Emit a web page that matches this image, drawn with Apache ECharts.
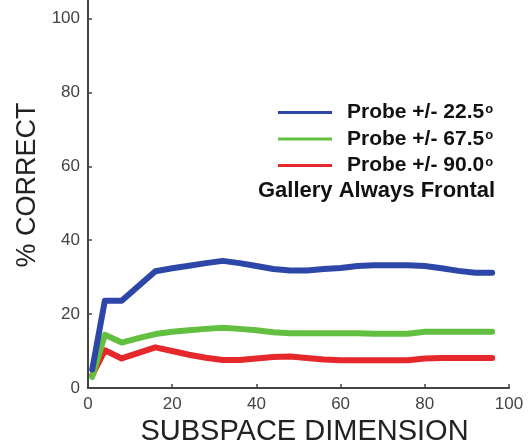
<!DOCTYPE html>
<html>
<head>
<meta charset="utf-8">
<script src="https://cdn.jsdelivr.net/npm/echarts@6/dist/echarts.min.js"></script>
<style>html,body{margin:0;padding:0;background:#fff}#c{width:529px;height:444px}</style>
</head>
<body>
<div id="c"></div>
<script>
var dims = [1, 4, 8, 12, 16, 20, 24, 28, 32, 36, 40, 44, 48, 52, 56, 60, 64, 68, 72, 76, 80, 84, 88, 92, 96];
var probe225 = [5, 23.6, 23.6, 27.6, 31.6, 32.4, 33.1, 33.8, 34.4, 33.8, 33.0, 32.2, 31.8, 31.8, 32.2, 32.5, 33.0, 33.2, 33.2, 33.2, 33.0, 32.4, 31.7, 31.2, 31.2];
var probe675 = [3, 14.4, 12.3, 13.5, 14.6, 15.2, 15.6, 16.0, 16.3, 16.0, 15.6, 15.1, 14.8, 14.8, 14.8, 14.8, 14.8, 14.7, 14.7, 14.7, 15.2, 15.2, 15.2, 15.2, 15.2];
var probe900 = [3.5, 10.2, 8.0, 9.5, 11.0, 10.0, 9.0, 8.2, 7.6, 7.6, 8.0, 8.4, 8.5, 8.1, 7.7, 7.5, 7.5, 7.5, 7.5, 7.5, 8.0, 8.1, 8.1, 8.1, 8.1];
var seriesNames = ['Probe +/- 22.5', 'Probe +/- 67.5', 'Probe +/- 90.0'];
var seriesColors = ['#2d47a9', '#62bf3f', '#e6272b'];
var xTicks = [0, 20, 40, 60, 80, 100];
var yTicks = [0, 20, 40, 60, 80, 100];
var noteText = 'Gallery Always Frontal';
var xName = 'SUBSPACE DIMENSION';
var yName = '% CORRECT';

var allValues = [probe225, probe675, probe900];
var series = allValues.map(function (vals, i) {
  return {
    name: seriesNames[i],
    type: 'line',
    data: dims.map(function (d, j) { return [d, vals[j]]; }),
    showSymbol: false,
    lineStyle: { width: 6, color: seriesColors[i], cap: 'round', join: 'round' },
    itemStyle: { color: seriesColors[i] },
    z: 3 - i,
    silent: true
  };
});

var chart = echarts.init(document.getElementById('c'), null, { renderer: 'canvas' });
var labelFont = '"Liberation Sans Narrow", "Liberation Sans", Arial, sans-serif';
var boldFont = 'Arial, "Liberation Sans", sans-serif';
chart.setOption({
  animation: false,
  backgroundColor: '#ffffff',
  grid: { left: 88, right: 20, top: 0, bottom: 56, containLabel: false, outerBoundsMode: 'none' },
  legend: {
    orient: 'vertical',
    left: 273,
    top: 97,
    itemWidth: 54,
    itemHeight: 3,
    itemGap: 4,
    icon: 'rect',
    data: seriesNames,
    formatter: function (n) { return '{a|' + n + '}{s|o}'; },
    textStyle: {
      padding: [0, 0, 0, 10],
      rich: {
        a: { fontFamily: boldFont, fontWeight: 'bold', fontSize: 21, color: '#111', lineHeight: 20 },
        s: { fontFamily: boldFont, fontWeight: 'bold', fontSize: 13, color: '#111', lineHeight: 20, verticalAlign: 'top', padding: [0, 0, 9, 1] }
      }
    },
    selectedMode: false
  },
  graphic: [{
    type: 'text',
    left: 258,
    top: 180,
    style: { text: noteText, fontFamily: boldFont, fontWeight: 'bold', fontSize: 22, fill: '#111' }
  }, {
    type: 'text',
    x: 14,
    y: 185,
    rotation: Math.PI / 2,
    style: { text: yName, fontFamily: boldFont, fontSize: 27, fill: '#222', align: 'center', verticalAlign: 'top' }
  }],
  xAxis: {
    type: 'value',
    min: 0,
    max: 100,
    interval: 20,
    name: xName,
    nameLocation: 'middle',
    nameGap: 29,
    nameTextStyle: { fontFamily: boldFont, fontSize: 29, color: '#222', padding: [0, 0, 0, 12] },
    axisLine: { show: true, onZero: false, lineStyle: { color: '#444', width: 2 } },
    axisTick: { show: true, inside: true, length: 4, lineStyle: { color: '#444', width: 1.5 } },
    axisLabel: { margin: 8, fontFamily: labelFont, fontSize: 17, color: '#444', formatter: function (v) { return xTicks.indexOf(v) >= 0 ? String(v) : ''; } },
    splitLine: { show: false }
  },
  yAxis: {
    type: 'value',
    min: 0,
    max: 105,
    interval: 20,
    axisLine: { show: true, onZero: false, lineStyle: { color: '#444', width: 2 } },
    axisTick: { show: true, inside: true, length: 4, lineStyle: { color: '#444', width: 1.5 } },
    axisLabel: { margin: 8, fontFamily: labelFont, fontSize: 17, color: '#444', showMaxLabel: false, formatter: function (v) { return yTicks.indexOf(v) >= 0 ? String(v) : ''; } },
    splitLine: { show: false }
  },
  series: series
});
</script>
</body>
</html>
